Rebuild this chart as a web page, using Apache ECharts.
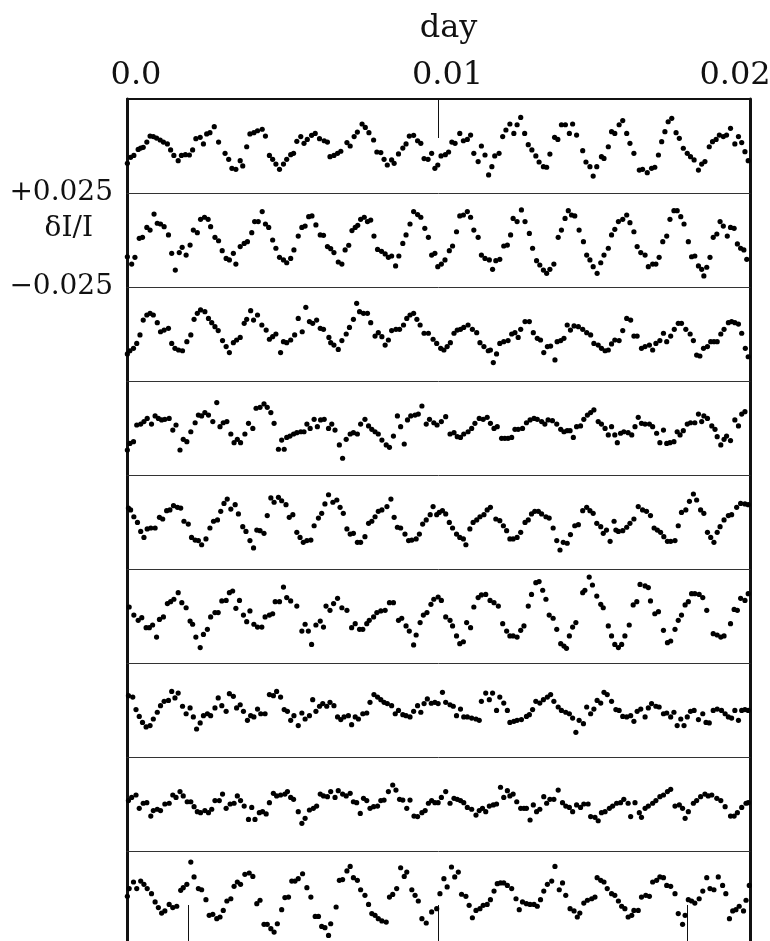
<!DOCTYPE html>
<html>
<head>
<meta charset="utf-8">
<script src="https://cdn.jsdelivr.net/npm/echarts@6/dist/echarts.min.js"></script>
<style>html,body{margin:0;padding:0;background:#fff}#c{width:770px;height:941px}</style>
</head>
<body>
<div id="c"></div>
<script>
// time in seconds from start of segment (1 day = 86400 s), value = dI/I x 1000
const dayTicks = [0, 864, 1728];
const dayLabels = ['0.0', '0.01', '0.02'];
const bottomTicks = [170, 864, 1555];
const yTicks = [25, 0, -25];
const yLabels = ['+0.025', 'δI/I', '−0.025'];

const strip1 = [[1,-9.2],[10,-6.0],[19,-5.0],[31,-1.8],[38,-1.1],[45,-0.7],[55,2.1],[64,5.3],[73,5.0],[82,4.2],[92,3.2],[101,2.1],[112,1.1],[121,-2.1],[130,-5.0],[142,-7.8],[151,-5.0],[162,-4.6],[173,-4.8],[182,-2.1],[191,3.9],[203,4.6],[212,1.1],[221,6.4],[230,7.1],[242,10.3],[254,2.1],[272,-3.9],[282,-7.1],[291,-11.9],[302,-12.4],[314,-7.8],[321,-10.6],[332,-0.4],[341,6.4],[352,7.1],[362,8.1],[375,8.9],[384,5.3],[395,-5.0],[404,-7.1],[413,-9.6],[423,-12.4],[434,-9.6],[443,-7.1],[454,-4.6],[462,-3.9],[471,2.5],[482,5.0],[491,1.4],[500,3.5],[512,5.7],[522,6.7],[534,3.9],[547,2.8],[556,2.1],[563,-5.7],[574,-5.0],[584,-3.9],[593,-2.8],[610,1.8],[619,0],[630,5.0],[639,7.4],[652,11.7],[661,9.9],[671,7.1],[684,3.2],[693,-3.2],[704,-3.5],[713,-7.1],[722,-10.1],[734,-7.4],[741,-9.2],[753,-4.2],[765,-1.1],[774,1.1],[783,5.3],[795,5.7],[806,2.8],[815,1.4],[824,-6.7],[835,-7.1],[845,-3.9],[854,-11.9],[862,-10.1],[871,-5.3],[883,-4.6],[892,-3.2],[901,2.1],[910,1.4],[923,6.7],[933,2.8],[944,3.5],[953,5.8],[962,-3.9],[974,-8.3],[983,0],[993,-4.8],[1003,-15.4],[1012,-11.0],[1020,-5.3],[1032,-3.9],[1042,5.0],[1051,8.5],[1062,11.7],[1073,6.7],[1082,11.3],[1092,15.2],[1103,6.7],[1113,0.7],[1123,-2.1],[1134,-5.3],[1143,-8.5],[1155,-11.0],[1164,-11.3],[1173,-4.3],[1186,4.6],[1195,3.5],[1205,11.3],[1216,11.3],[1227,6.7],[1236,11.7],[1247,5.8],[1264,-2.5],[1273,-8.5],[1284,-11.0],[1293,-16.0],[1303,-11.0],[1316,-5.7],[1323,-6.6],[1335,-0.4],[1344,7.6],[1353,6.7],[1365,11.3],[1375,13.5],[1386,6.7],[1395,1.4],[1406,-3.9],[1421,-12.8],[1430,-12.4],[1443,-14.2],[1455,-11.9],[1464,-11.3],[1474,-4.8],[1483,2.3],[1492,7.6],[1501,12.9],[1511,14.7],[1523,7.1],[1532,4.1],[1543,-1.2],[1554,-3.9],[1563,-5.7],[1573,-7.4],[1585,-12.8],[1594,-9.6],[1603,-8.3],[1615,-0.4],[1624,2.3],[1634,3.5],[1643,5.8],[1654,5.0],[1663,5.8],[1674,9.4],[1686,1.1],[1696,5.0],[1705,1.8],[1714,-3.0],[1723,-7.8]];

const strip2 = [[1,-8.9],[13,-12.8],[22,-9.2],[34,0.9],[43,1.4],[55,6.7],[64,5.3],[75,13.8],[84,8.9],[93,8.5],[103,7.1],[115,2.7],[124,-7.1],[134,-16.0],[145,-6.7],[153,-3.9],[164,-8.0],[175,-2.7],[184,5.3],[195,3.9],[204,11.0],[215,12.1],[225,11.0],[232,7.1],[244,1.4],[254,-0.4],[264,-5.7],[275,-9.8],[284,-10.6],[295,-7.1],[302,-12.8],[314,-3.5],[325,-1.8],[334,-0.9],[346,3.9],[354,9.8],[364,9.8],[375,15.1],[384,8.5],[393,6.7],[404,0],[413,-4.4],[423,-9.2],[434,-10.6],[443,-12.1],[454,-9.8],[463,-5.3],[475,2.1],[485,6.7],[494,7.4],[504,12.4],[513,12.8],[524,8.0],[536,2.7],[545,2.5],[556,-3.5],[565,-4.6],[574,-6.7],[586,-11.7],[596,-12.8],[605,-5.3],[615,-2.8],[624,5.0],[633,6.7],[640,7.8],[648,11.0],[658,12.1],[667,9.8],[676,10.6],[685,2.1],[695,-5.0],[706,-6.0],[716,-7.4],[725,-9.2],[734,-8.5],[745,-13.8],[754,-8.5],[765,-1.8],[774,2.7],[785,8.5],[795,15.1],[806,13.5],[815,12.1],[826,6.2],[836,1.4],[845,-8.0],[854,-7.1],[862,-14.2],[872,-12.8],[882,-10.6],[894,-5.7],[903,-3.2],[914,4.4],[923,12.8],[933,13.3],[944,15.1],[953,12.1],[962,5.3],[974,1.4],[983,-8.0],[993,-9.8],[1005,-10.6],[1014,-15.6],[1023,-11.0],[1034,-10.3],[1045,-3.2],[1055,-2.7],[1064,2.7],[1071,11.5],[1082,9.8],[1094,16.0],[1104,9.8],[1116,3.5],[1125,-4.4],[1136,-11.0],[1145,-13.3],[1155,-16.0],[1164,-17.7],[1173,-15.6],[1184,-12.8],[1196,1.4],[1205,5.3],[1215,11.5],[1224,15.6],[1233,13.3],[1242,12.8],[1254,5.3],[1266,-0.9],[1275,-8.0],[1284,-10.6],[1293,-14.2],[1304,-17.7],[1314,-12.1],[1323,-8.0],[1335,-4.4],[1344,2.7],[1353,5.7],[1363,9.8],[1375,11.0],[1386,13.3],[1395,9.2],[1406,4.4],[1415,-3.5],[1425,-6.7],[1437,-8.0],[1446,-14.2],[1458,-12.8],[1467,-12.8],[1476,-9.2],[1486,-0.9],[1497,2.1],[1506,11.0],[1517,15.6],[1526,15.6],[1536,12.4],[1545,8.5],[1557,-0.9],[1566,-8.9],[1575,-8.5],[1585,-13.8],[1594,-15.6],[1600,-19.1],[1608,-14.5],[1617,-9.2],[1626,1.4],[1636,3.2],[1645,9.8],[1654,7.4],[1665,2.1],[1674,6.7],[1684,6.2],[1693,-2.1],[1702,-4.4],[1711,-5.3],[1719,-10.3]];

const strip3 = [[1,-10.6],[8,-8.9],[18,-7.6],[27,-5.0],[36,-0.5],[45,7.4],[55,10.1],[64,11.0],[73,10.1],[84,6.0],[93,1.2],[103,2.1],[115,3.0],[124,-5.0],[133,-7.6],[143,-8.5],[154,-8.9],[166,-4.1],[177,-0.5],[186,7.8],[195,11.0],[204,12.8],[216,11.9],[226,8.3],[235,6.0],[244,3.9],[253,1.8],[265,-3.5],[275,-6.7],[284,-9.9],[295,-4.6],[304,-3.2],[314,-1.8],[325,5.7],[332,7.8],[343,12.4],[351,7.4],[362,10.1],[374,4.8],[386,2.1],[395,-2.8],[404,-1.4],[413,0],[426,-9.9],[434,-4.1],[443,-4.6],[454,-3.2],[465,-0.5],[475,8.3],[486,1.2],[496,14.2],[506,6.6],[515,5.7],[526,7.4],[536,3.0],[545,2.5],[560,-1.8],[565,-4.6],[574,-5.9],[586,-8.2],[596,-3.5],[608,0],[617,3.5],[628,7.8],[637,16.3],[645,11.9],[656,11.0],[667,11.0],[676,6.0],[688,-1.1],[697,0.7],[707,-1.4],[716,-5.9],[725,-3.2],[734,1.8],[746,2.5],[756,2.5],[767,4.8],[776,8.3],[785,10.1],[795,11.0],[804,7.8],[813,4.8],[824,0.4],[836,0.4],[849,-2.8],[859,-5.0],[870,-7.6],[879,-8.5],[888,-6.7],[897,-4.6],[907,0.4],[916,2.1],[925,2.5],[934,3.5],[946,4.8],[958,2.5],[970,0.7],[979,-4.6],[990,-6.7],[1002,-8.9],[1008,-8.5],[1016,-15.2],[1025,-10.6],[1034,-5.0],[1045,-4.1],[1057,-3.5],[1067,0],[1076,0.7],[1085,-1.8],[1092,2.5],[1104,6.6],[1116,6.6],[1127,0.7],[1138,-2.3],[1147,-3.2],[1156,-9.9],[1166,-6.7],[1175,-6.4],[1187,-13.8],[1193,-4.1],[1203,-3.5],[1212,-2.3],[1221,4.8],[1230,2.1],[1240,4.3],[1252,3.9],[1264,2.5],[1275,0.7],[1286,-0.5],[1295,-5.0],[1307,-5.9],[1316,-7.6],[1326,-8.9],[1335,-8.5],[1344,-5.3],[1353,-3.2],[1365,-3.5],[1375,1.8],[1386,8.3],[1397,7.4],[1406,-1.1],[1415,-1.1],[1427,-7.6],[1437,-6.7],[1449,-5.9],[1458,-8.5],[1467,-5.0],[1478,-3.5],[1488,0.4],[1497,-4.1],[1508,-1.1],[1518,2.5],[1529,5.7],[1538,5.7],[1550,2.5],[1562,0],[1571,-3.5],[1580,-11.2],[1589,-11.7],[1599,-7.6],[1610,-6.7],[1619,-4.1],[1628,-4.1],[1637,-4.1],[1647,0],[1656,2.5],[1668,6.0],[1677,6.6],[1686,6.0],[1696,5.3],[1705,0.4],[1715,-7.6],[1723,-12.1]];

const strip4 = [[1,-11.7],[8,-8.2],[18,-7.3],[27,1.6],[38,2.1],[47,3.4],[56,5.1],[68,2.1],[78,6.4],[87,5.1],[96,4.3],[105,4.6],[117,5.1],[127,-1.1],[136,1.6],[147,-11.7],[156,-6.0],[166,-7.3],[177,-2.0],[189,2.8],[198,6.9],[207,6.4],[216,8.2],[226,6.9],[238,3.4],[249,13.5],[258,0.7],[267,2.8],[277,3.4],[288,-3.2],[297,-7.8],[306,-6.0],[315,-7.8],[327,-3.2],[337,2.5],[349,-0.2],[358,10.5],[369,11.0],[380,12.8],[389,11.0],[399,8.2],[408,2.5],[420,-11.3],[429,-6.4],[436,-11.3],[443,-5.0],[452,-4.3],[462,-3.2],[471,-2.5],[482,-2.0],[491,-2.0],[499,2.1],[508,-0.2],[519,4.6],[528,0.7],[537,4.3],[547,4.6],[559,-0.2],[568,2.1],[577,-1.1],[589,-9.0],[598,-16.1],[608,-6.0],[619,-3.2],[628,-2.5],[639,-3.2],[648,2.1],[660,4.6],[670,1.1],[679,-0.7],[688,-2.0],[697,-3.2],[707,-6.4],[719,-9.0],[728,-10.3],[739,-4.3],[750,6.4],[759,0.7],[769,-8.5],[778,4.3],[787,6.4],[799,6.9],[808,7.4],[818,11.7],[830,2.1],[839,4.6],[851,2.8],[860,1.6],[872,3.4],[884,6.0],[896,-3.2],[907,-2.5],[916,-4.6],[925,-5.0],[934,-3.2],[946,-2.0],[956,-0.2],[965,2.5],[977,5.1],[988,4.6],[999,5.7],[1008,2.5],[1018,-0.2],[1027,0.7],[1039,-5.5],[1048,-5.5],[1057,-5.5],[1067,-5.0],[1076,-0.7],[1085,-0.7],[1097,-0.2],[1108,2.8],[1118,4.3],[1129,5.1],[1138,4.6],[1150,3.4],[1159,2.1],[1168,4.3],[1180,3.9],[1192,2.1],[1203,-0.7],[1212,-2.0],[1221,-1.4],[1229,-1.4],[1238,-5.0],[1247,0.7],[1258,1.1],[1267,4.6],[1277,6.9],[1286,8.2],[1295,9.6],[1307,3.4],[1316,2.1],[1326,-0.2],[1335,-3.7],[1344,0.7],[1353,-3.7],[1360,-7.8],[1369,-2.8],[1378,-2.0],[1390,-2.5],[1400,-3.7],[1409,0.7],[1418,5.7],[1427,2.5],[1437,2.1],[1449,2.1],[1458,0.7],[1469,-2.8],[1478,-7.8],[1488,-1.1],[1497,-8.2],[1506,-7.8],[1517,-7.3],[1526,-2.0],[1534,-3.7],[1543,-1.4],[1554,2.1],[1563,2.8],[1575,2.8],[1585,7.4],[1594,3.4],[1600,6.4],[1610,5.1],[1622,1.1],[1631,-0.7],[1637,-4.6],[1647,-9.0],[1656,-6.0],[1663,-4.3],[1674,-6.7],[1686,4.3],[1696,1.1],[1705,7.4],[1714,8.7]];

const strip5 = [[4,7.4],[10,6.4],[19,2.8],[29,-0.2],[38,-5.0],[47,-8.2],[56,-3.7],[66,-3.2],[78,-3.2],[90,2.5],[99,1.6],[110,6.0],[119,6.4],[129,8.7],[140,7.8],[149,7.4],[158,0.4],[170,-1.1],[179,-8.2],[189,-9.6],[198,-9.9],[207,-12.1],[219,-9.0],[230,-3.2],[240,0.4],[251,1.1],[260,5.7],[269,9.9],[278,12.2],[288,6.9],[300,9.2],[309,4.3],[321,-2.5],[330,-5.0],[341,-9.9],[351,-13.8],[360,-4.3],[369,-4.6],[380,-6.0],[389,3.4],[399,12.8],[408,10.5],[420,13.1],[429,11.3],[441,9.2],[450,2.5],[460,3.9],[471,-5.5],[480,-8.2],[489,-10.8],[499,-9.9],[510,-9.6],[519,-2.0],[531,2.1],[540,4.6],[549,9.6],[559,14.5],[571,10.5],[582,11.7],[591,7.8],[600,4.6],[610,-3.7],[619,-6.4],[628,-6.0],[639,-10.8],[648,-10.8],[660,-7.8],[670,-0.7],[679,0.4],[688,2.8],[697,5.7],[707,6.4],[721,8.2],[732,12.2],[741,2.5],[750,-2.8],[759,-3.2],[771,-6.4],[781,-9.9],[790,-9.6],[802,-9.0],[811,-6.4],[820,-1.1],[830,1.1],[841,3.9],[849,8.2],[859,3.9],[866,5.1],[875,6.0],[884,4.3],[894,-0.2],[903,-3.2],[914,-6.4],[923,-8.2],[933,-9.0],[940,-12.1],[951,-3.7],[960,-0.2],[970,1.1],[979,2.8],[990,3.9],[999,6.4],[1008,7.8],[1023,1.6],[1034,0.7],[1044,-2.0],[1053,-4.6],[1062,-9.0],[1071,-9.0],[1082,-8.2],[1092,-5.5],[1104,-0.2],[1113,1.1],[1122,4.3],[1131,5.7],[1141,5.7],[1150,4.3],[1162,2.8],[1171,2.1],[1182,-3.2],[1192,-9.9],[1201,-14.9],[1210,-10.8],[1221,-11.3],[1230,-6.7],[1242,-2.0],[1252,-1.4],[1264,6.0],[1275,7.8],[1284,6.0],[1293,4.6],[1303,-0.7],[1314,-2.5],[1321,-6.0],[1330,-4.3],[1340,-10.3],[1351,0.4],[1356,-4.3],[1363,-5.0],[1375,-4.6],[1386,-2.8],[1395,-0.7],[1406,1.6],[1418,8.2],[1430,6.4],[1441,5.7],[1452,3.4],[1462,-3.2],[1471,-4.3],[1480,-5.5],[1489,-7.8],[1499,-10.3],[1508,-10.3],[1520,-9.9],[1529,-2.0],[1538,5.1],[1550,6.4],[1560,11.0],[1571,14.9],[1580,11.7],[1591,6.4],[1600,4.6],[1610,-5.5],[1619,-8.2],[1628,-10.8],[1637,-5.5],[1645,-2.5],[1656,1.1],[1668,3.4],[1677,3.9],[1691,7.8],[1702,9.9],[1714,9.6],[1723,9.2]];

const strip6 = [[6,4.8],[19,0.5],[31,-2.3],[41,-0.9],[53,-6.2],[62,-6.2],[71,-4.8],[82,-11.2],[90,-1.8],[101,-0.5],[112,6.6],[121,7.6],[130,8.9],[142,12.4],[152,7.1],[164,4.4],[175,-2.7],[182,-4.4],[191,-11.2],[203,-16.8],[212,-9.8],[223,-7.1],[232,-0.5],[244,1.8],[253,1.8],[263,8.0],[275,8.3],[284,12.4],[293,13.3],[302,4.1],[312,8.3],[323,0.5],[332,-3.0],[341,2.7],[352,-4.4],[362,-5.9],[374,-5.9],[383,-0.5],[395,0.5],[404,1.2],[411,7.6],[423,7.6],[434,15.4],[443,9.8],[454,8.0],[471,5.3],[485,-8.0],[494,-4.4],[503,-8.0],[512,-15.1],[524,-4.8],[536,-2.7],[545,-5.9],[552,5.3],[563,3.0],[573,6.6],[584,9.4],[596,4.4],[610,3.0],[623,-6.2],[633,-4.1],[645,-7.1],[654,-7.1],[665,-4.1],[672,-2.3],[684,-0.5],[693,1.8],[704,2.7],[716,3.0],[728,7.1],[739,7.1],[753,-2.3],[762,-1.2],[774,-5.3],[783,-8.0],[795,-15.4],[802,-10.1],[813,-3.5],[822,0.5],[832,1.8],[843,6.2],[851,8.9],[863,10.1],[872,8.3],[884,-0.5],[896,-2.3],[903,-5.3],[914,-10.6],[923,-14.7],[933,-13.7],[942,-3.5],[953,-6.2],[962,4.8],[974,9.8],[983,11.2],[995,11.5],[1007,8.3],[1018,7.1],[1030,5.3],[1042,-4.1],[1053,-8.0],[1062,-10.6],[1071,-10.6],[1082,-11.2],[1092,-7.6],[1101,-5.3],[1113,5.3],[1122,11.5],[1134,17.7],[1143,18.3],[1153,13.7],[1162,8.9],[1171,0.5],[1182,-1.2],[1192,-7.1],[1203,-14.7],[1212,-16.0],[1219,-17.2],[1227,-10.6],[1236,-5.9],[1245,-3.5],[1264,12.4],[1270,13.7],[1282,20.7],[1291,16.5],[1303,10.6],[1314,6.2],[1321,4.4],[1335,-5.3],[1344,-10.6],[1353,-15.1],[1363,-16.8],[1372,-15.1],[1381,-10.6],[1393,-4.8],[1404,5.9],[1414,7.6],[1423,16.8],[1437,16.0],[1446,15.1],[1452,8.0],[1464,1.2],[1474,2.3],[1488,-7.6],[1499,-14.2],[1508,-13.3],[1520,-7.1],[1529,-2.3],[1538,0.5],[1548,5.9],[1557,7.6],[1566,11.9],[1575,11.9],[1587,11.5],[1597,9.8],[1608,3.0],[1626,-9.4],[1637,-10.1],[1647,-11.2],[1656,-10.6],[1674,-4.1],[1684,3.5],[1693,3.0],[1702,9.4],[1714,8.3],[1723,11.9]];

const strip7 = [[4,7.6],[16,6.9],[25,0.2],[34,-3.4],[43,-6.6],[53,-9.0],[64,-8.3],[73,-4.8],[84,-1.2],[93,2.3],[103,4.6],[115,5.1],[124,9.9],[133,6.4],[142,9.0],[154,2.0],[164,-2.0],[175,1.1],[184,-3.7],[193,-10.1],[203,-6.9],[212,-3.0],[223,-2.0],[232,-3.0],[244,1.1],[253,6.4],[263,2.3],[275,-0.7],[284,8.7],[295,7.3],[304,1.1],[314,2.8],[323,-0.7],[334,-5.5],[343,-3.0],[352,-3.7],[362,0.5],[371,-2.0],[383,-2.0],[395,8.2],[406,7.6],[415,9.9],[426,6.9],[436,0.2],[445,-0.7],[454,-5.5],[463,-3.0],[475,-8.3],[485,-1.6],[494,-4.8],[506,-3.0],[515,5.5],[524,-0.7],[534,2.0],[543,3.4],[554,2.0],[563,4.1],[574,2.3],[584,-3.7],[593,-5.1],[602,-3.7],[614,-3.0],[623,-7.8],[633,-3.7],[642,-4.8],[654,-2.0],[665,-1.6],[674,4.1],[685,8.2],[695,6.9],[704,5.5],[713,4.1],[722,3.4],[734,2.3],[744,-2.0],[753,-0.2],[765,-2.5],[774,-3.0],[785,-3.7],[795,-0.7],[806,2.3],[815,-1.2],[824,3.4],[833,5.9],[844,3.6],[854,4.1],[863,3.4],[875,9.4],[884,4.1],[896,2.8],[905,2.0],[914,-3.0],[925,0.5],[934,-3.7],[944,-3.7],[956,-4.3],[968,-4.8],[977,-5.5],[983,4.6],[995,9.0],[1005,5.5],[1014,9.0],[1025,-0.2],[1034,6.9],[1045,3.7],[1055,-0.2],[1062,-6.6],[1073,-6.0],[1082,-5.5],[1094,-5.1],[1108,-3.4],[1116,-2.5],[1125,0.2],[1134,4.6],[1145,3.7],[1155,5.5],[1166,6.9],[1175,8.2],[1184,4.6],[1196,1.6],[1205,-0.2],[1217,-1.2],[1227,-2.0],[1236,-4.3],[1245,-11.9],[1254,-5.5],[1266,-7.3],[1275,1.6],[1286,-2.0],[1295,0.5],[1304,5.1],[1314,3.7],[1323,9.4],[1332,8.2],[1344,4.6],[1356,0.2],[1365,-0.2],[1375,-3.4],[1386,-3.7],[1397,-3.0],[1406,-6.0],[1415,-0.7],[1425,0.5],[1437,-3.7],[1446,1.1],[1455,3.4],[1467,2.0],[1476,1.6],[1488,-2.0],[1497,-1.6],[1508,-3.7],[1517,-1.2],[1526,-8.3],[1536,-4.8],[1545,-8.3],[1554,-3.7],[1563,-0.7],[1573,-0.2],[1585,-5.1],[1597,-2.0],[1606,-6.6],[1615,-6.9],[1626,-0.2],[1637,0.5],[1649,-0.2],[1659,-2.0],[1668,-3.7],[1677,-4.3],[1686,-0.2],[1696,-5.5],[1705,-0.2],[1714,0.2],[1723,-0.2]];

const strip8 = [[4,1.8],[13,3.5],[25,4.8],[34,-2.3],[45,0.4],[55,0.7],[66,-6.4],[73,-3.5],[84,-2.8],[93,-3.5],[105,0],[117,0.4],[127,4.8],[136,3.5],[147,6.6],[156,4.3],[167,1.2],[177,1.2],[186,-1.4],[195,-4.1],[204,-4.6],[216,-3.5],[226,-4.6],[235,-2.8],[244,1.8],[256,1.8],[265,5.3],[275,-2.3],[286,0],[297,0.4],[306,4.3],[315,1.8],[325,-1.1],[337,-8.2],[346,-1.8],[355,-8.2],[367,-4.6],[376,-4.1],[386,-5.3],[395,0.7],[406,5.7],[415,4.3],[426,4.8],[438,5.3],[445,6.6],[454,3.5],[462,2.5],[475,-4.1],[485,-10.3],[494,-7.6],[506,-3.2],[517,-2.3],[526,-1.1],[536,5.3],[545,4.3],[556,3.9],[565,6.6],[577,3.5],[586,7.1],[598,5.3],[608,4.3],[619,5.7],[628,1.2],[637,0.7],[647,-5.0],[656,3.0],[665,1.8],[674,-2.3],[684,-1.4],[695,-1.1],[704,1.8],[713,2.1],[725,6.6],[737,10.1],[746,7.4],[756,2.5],[765,2.1],[776,-2.3],[785,2.1],[796,-6.4],[806,-6.7],[818,-4.6],[827,-3.5],[836,0.4],[845,1.8],[854,0.7],[863,0.7],[872,3.5],[884,6.6],[896,0.4],[907,3.0],[916,2.5],[925,1.8],[934,0.7],[944,-1.8],[956,-2.8],[968,-5.9],[977,-3.5],[986,-2.3],[995,-4.1],[1005,-1.1],[1016,-0.5],[1025,0],[1036,8.9],[1045,3.5],[1055,7.1],[1062,4.3],[1071,5.3],[1081,1.2],[1092,-2.3],[1101,-2.3],[1108,-2.3],[1118,-8.5],[1127,-0.5],[1136,-4.1],[1145,-2.8],[1156,3.9],[1164,0.4],[1173,2.5],[1184,2.5],[1196,7.4],[1208,0.7],[1217,-1.1],[1227,-1.8],[1236,-4.1],[1247,-0.5],[1258,-1.8],[1267,0],[1279,0],[1286,-6.7],[1298,-7.1],[1307,-8.9],[1316,-4.6],[1326,-4.1],[1338,-2.3],[1347,-1.1],[1358,0.4],[1369,0.7],[1378,2.5],[1390,0.4],[1397,-6.7],[1409,0.7],[1421,-4.6],[1427,-7.1],[1437,-2.3],[1446,-1.1],[1458,0.4],[1467,1.8],[1478,3.9],[1488,4.8],[1499,6.6],[1508,7.8],[1520,-1.1],[1532,-0.5],[1541,-2.3],[1548,-7.6],[1557,-4.1],[1571,0.4],[1580,1.8],[1591,3.9],[1603,5.3],[1612,4.3],[1622,4.8],[1636,3.0],[1647,1.8],[1659,-1.4],[1674,-6.4],[1684,-6.4],[1693,-4.6],[1705,-1.8],[1717,0.4],[1723,0.7]];

const strip9 = [[1,0.9],[6,5.0],[18,8.5],[27,5.0],[38,9.0],[47,7.3],[56,5.0],[68,2.3],[78,-2.1],[87,-5.1],[96,-8.0],[105,-6.9],[117,-3.4],[127,-5.1],[138,-4.4],[149,4.1],[156,5.5],[166,7.3],[177,19.1],[186,11.2],[198,5.0],[207,4.4],[219,-0.9],[228,-9.2],[238,-8.7],[249,-11.0],[258,-10.1],[267,-6.6],[277,-1.6],[288,-0.4],[297,6.2],[306,8.5],[315,7.3],[327,12.6],[339,13.3],[349,11.5],[360,-3.0],[369,-1.2],[380,-14.0],[389,-14.0],[399,-16.3],[408,-18.1],[417,-13.7],[429,-6.2],[438,0.2],[448,0.5],[457,9.0],[466,9.0],[475,10.3],[487,12.9],[499,5.5],[510,0.5],[522,-9.8],[531,-9.8],[540,-15.1],[549,-15.8],[559,-19.9],[565,-13.7],[580,-4.8],[589,9.4],[598,9.8],[610,14.4],[619,16.8],[628,10.8],[639,9.4],[648,4.4],[660,1.4],[670,-3.4],[679,-8.3],[688,-9.2],[697,-11.0],[707,-12.2],[719,-12.8],[728,0.5],[737,1.9],[748,5.0],[759,16.1],[769,11.5],[776,13.8],[790,4.4],[799,1.4],[808,-1.6],[818,-11.0],[830,-13.3],[845,-7.4],[859,-5.7],[868,2.3],[879,10.3],[888,5.9],[900,16.5],[909,11.2],[919,13.8],[928,2.0],[940,0.9],[949,-3.9],[958,-10.5],[968,-6.6],[979,-5.7],[988,-3.9],[999,-3.4],[1008,-0.9],[1018,3.7],[1027,7.6],[1036,8.0],[1045,8.0],[1055,6.7],[1067,5.0],[1079,-0.4],[1088,-6.2],[1097,-2.1],[1108,-3.0],[1118,-3.4],[1129,-3.4],[1138,-4.4],[1147,-0.9],[1156,3.7],[1166,7.3],[1178,9.0],[1187,16.8],[1199,4.4],[1208,8.0],[1217,1.4],[1229,-5.7],[1240,-6.9],[1249,-10.1],[1256,-8.0],[1267,-2.7],[1277,-1.2],[1289,-0.4],[1298,0.5],[1304,10.8],[1314,9.4],[1323,8.5],[1332,5.0],[1344,2.3],[1353,1.4],[1363,-1.6],[1372,-4.4],[1381,-5.7],[1390,-10.1],[1400,-9.2],[1406,-6.6],[1418,-6.6],[1427,0.5],[1439,1.4],[1449,0.9],[1458,8.5],[1469,9.4],[1478,11.2],[1488,10.8],[1497,6.7],[1508,6.2],[1520,2.3],[1529,-8.3],[1541,-14.0],[1548,-9.2],[1557,-0.9],[1566,-1.6],[1575,-2.7],[1587,-0.4],[1597,3.7],[1608,10.8],[1617,5.0],[1628,4.4],[1640,11.2],[1652,6.7],[1661,2.3],[1671,-11.0],[1680,-6.9],[1689,-6.2],[1698,-4.4],[1710,-6.9],[1717,-1.2],[1726,6.7]];

const strips = [strip1, strip2, strip3, strip4, strip5, strip6, strip7, strip8, strip9];

const FONT = 'DejaVu Serif';
const INK = '#111';
const PLOT_LEFT = 127, PLOT_RIGHT = 20, PLOT_TOP = 99, STRIP_H = 94;

const chart = echarts.init(document.getElementById('c'), null, {renderer: 'canvas'});

const grids = [], xAxes = [], yAxes = [], series = [];
strips.forEach((data, k) => {
  grids.push({left: PLOT_LEFT, right: PLOT_RIGHT, top: PLOT_TOP + STRIP_H * k, height: STRIP_H,
              containLabel: false, outerBoundsMode: 'none'});
  const isTop = k === 0;
  xAxes.push({
    gridIndex: k, type: 'value', min: dayTicks[0], max: dayTicks[2], interval: 864,
    position: 'top',
    axisLine: {show: true, onZero: false, lineStyle: {color: isTop ? INK : '#333', width: isTop ? 2 : 1}},
    axisTick: {show: isTop, inside: true, length: 39, customValues: [dayTicks[1]], lineStyle: {color: INK, width: 1}},
    axisLabel: {
      show: isTop, customValues: dayTicks, margin: 7, hideOverlap: false,
      formatter: (v) => { const i = dayTicks.indexOf(Math.round(v)); return '{l' + i + '|' + dayLabels[i] + '}'; },
      rich: {
        l0: {fontFamily: FONT, fontSize: 32, color: INK, padding: [0, 0, 0, 18]},
        l1: {fontFamily: FONT, fontSize: 32, color: INK, padding: [0, 0, 0, 18]},
        l2: {fontFamily: FONT, fontSize: 32, color: INK, padding: [0, 30, 0, 0]}
      }
    },
    splitLine: {show: false},
    name: isTop ? 'day' : '', nameLocation: 'middle', nameGap: 54,
    nameTextStyle: {fontFamily: FONT, fontSize: 32, color: INK, padding: [0, 0, 0, 20]}
  });
  const showY = k === 1;
  yAxes.push({
    gridIndex: k, type: 'value', min: -25, max: 25, interval: 25, position: 'left',
    axisLine: {show: true, onZero: false, lineStyle: {color: INK, width: 3}},
    axisTick: {show: false}, splitLine: {show: false},
    axisLabel: {
      show: showY, margin: 14, showMinLabel: true, showMaxLabel: true,
      formatter: (v) => { const i = yTicks.indexOf(Math.round(v)); return i === 1 ? '{m|' + yLabels[i] + '}' : '{n|' + yLabels[i] + '}'; },
      rich: {
        n: {fontFamily: FONT, fontSize: 28, color: INK},
        m: {fontFamily: FONT, fontSize: 28, color: INK, padding: [0, 20, 22, 0]}
      }
    }
  });
  yAxes.push({
    gridIndex: k, type: 'value', min: -25, max: 25, position: 'right',
    axisLine: {show: true, onZero: false, lineStyle: {color: INK, width: 3}},
    axisTick: {show: false}, splitLine: {show: false}, axisLabel: {show: false}
  });
  series.push({
    type: 'scatter', xAxisIndex: k, yAxisIndex: 2 * k, data: data,
    symbol: 'circle', symbolSize: 5.2, itemStyle: {color: '#000', opacity: 1}, silent: true
  });
});
// bottom axis of the last strip with its inner ticks
xAxes.push({
  gridIndex: strips.length - 1, type: 'value', min: dayTicks[0], max: dayTicks[2], position: 'bottom',
  axisLine: {show: true, onZero: false, lineStyle: {color: INK, width: 2}},
  axisTick: {show: true, inside: true, length: 40, customValues: bottomTicks, lineStyle: {color: INK, width: 1}},
  axisLabel: {show: false}, splitLine: {show: false}
});

chart.setOption({
  animation: false,
  backgroundColor: '#fff',
  grid: grids, xAxis: xAxes, yAxis: yAxes, series: series
});
</script>
</body>
</html>
